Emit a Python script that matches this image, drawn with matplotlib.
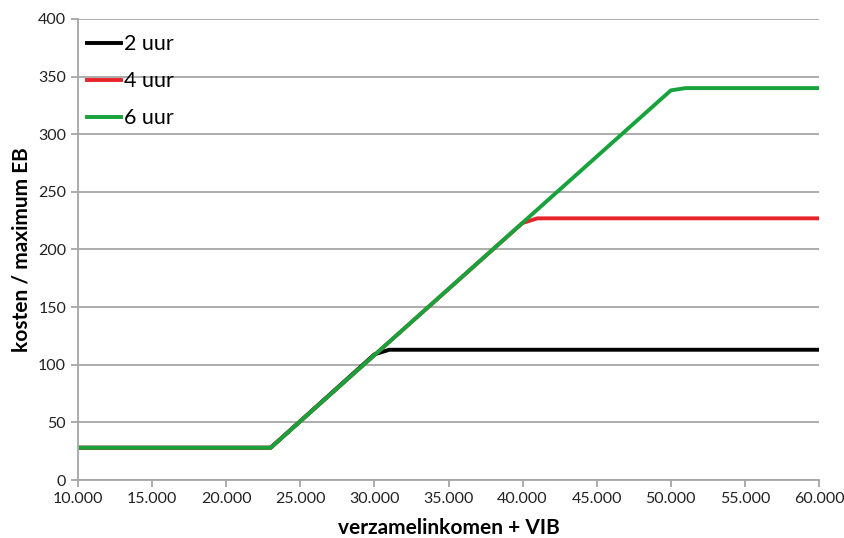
import matplotlib
matplotlib.use("Agg")
import matplotlib.pyplot as plt
from matplotlib.ticker import FuncFormatter

# data (breakpoints)
x_2uur = [10000, 23000, 30000, 31000, 60000]
y_2uur = [28, 28, 109, 113, 113]
x_4uur = [10000, 23000, 40000, 41000, 60000]
y_4uur = [28, 28, 223, 227, 227]
x_6uur = [10000, 23000, 50000, 51000, 60000]
y_6uur = [28, 28, 338, 340, 340]
labels = ["2 uur", "4 uur", "6 uur"]

plt.rcParams['font.family'] = ['Lato', 'DejaVu Sans']

fig = plt.figure(figsize=(8.44, 5.38), dpi=100)
ax = fig.add_axes([0.0924, 0.1078, 0.878, 0.857])

grid_col = '#a6a6a6'
ax.plot(x_2uur, y_2uur, color='black', lw=2.8, label=labels[0])
ax.plot(x_4uur, y_4uur, color='#e8232a', lw=2.8, label=labels[1])
ax.plot(x_6uur, y_6uur, color='#18a23c', lw=2.8, label=labels[2])

ax.set_xlim(10000, 60000)
ax.set_ylim(0, 400)
ax.set_xticks(range(10000, 60001, 5000))
ax.set_yticks(range(0, 401, 50))
ax.xaxis.set_major_formatter(FuncFormatter(lambda v, p: f"{int(v):,}".replace(",", ".")))
ax.yaxis.grid(True, color=grid_col, lw=1.3)
ax.set_axisbelow(True)

for s in ['top', 'right']:
    ax.spines[s].set_visible(False)
for s in ['left', 'bottom']:
    ax.spines[s].set_color(grid_col)
    ax.spines[s].set_linewidth(1.3)
ax.tick_params(colors=grid_col, length=5, width=1.3, labelcolor='#222222', labelsize=11.5)

ax.set_xlabel("verzamelinkomen + VIB", fontsize=15, fontweight='bold', labelpad=9)
ax.set_ylabel("kosten / maximum EB", fontsize=15, fontweight='bold', labelpad=5)

leg = ax.legend(loc='upper left', frameon=False, fontsize=15.5, handlelength=1.6,
                handletextpad=0.15, labelspacing=0.78, borderaxespad=0.0,
                bbox_to_anchor=(0.0, 0.985))

fig.savefig("out.png", dpi=100)
